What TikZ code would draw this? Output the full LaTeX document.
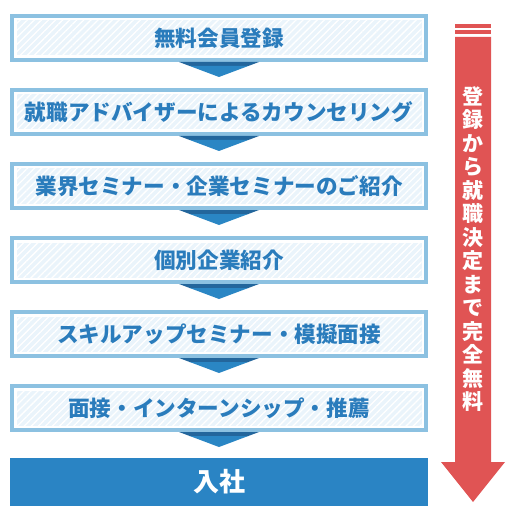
\documentclass[tikz,border=0pt]{standalone}
\usepackage{fontspec}
\newfontfamily\jp{Noto Sans CJK JP}
\usetikzlibrary{calc,patterns.meta}
\definecolor{boxline}{HTML}{8CC1E1}
\definecolor{boxfill}{HTML}{EAF4FB}
\definecolor{boxtext}{HTML}{2A7CBC}
\definecolor{tridark}{HTML}{23669C}
\definecolor{trilight}{HTML}{2A86C4}
\definecolor{endbox}{HTML}{2A84C4}
\definecolor{arrowred}{HTML}{E05454}
\tikzset{
  stepbox/.style={draw=boxline, line width=4pt, fill=white,
    minimum width=414pt, minimum height=44pt, inner sep=0pt,
    text=boxtext, font=\jp\bfseries\fontsize{21.6}{21.6}\selectfont,
    path picture={
      \fill[boxfill] ([shift={(4.5pt,-4.5pt)}]path picture bounding box.north west)
        rectangle ([shift={(-4.5pt,4.5pt)}]path picture bounding box.south east);
      \fill[pattern={Lines[angle=45,distance=5pt,line width=1.3pt]}, pattern color=white]
        ([shift={(4.5pt,-4.5pt)}]path picture bounding box.north west)
        rectangle ([shift={(-4.5pt,4.5pt)}]path picture bounding box.south east);
    }},
  endstep/.style={fill=endbox, minimum width=418pt, minimum height=48pt, inner sep=0pt,
    text=white, font=\jp\bfseries\fontsize{26}{26}\selectfont},
  vtext/.style={text=white, align=center, inner sep=0pt,
    font=\jp\bfseries\fontsize{21}{23.5}\selectfont}
}
\newcommand{\stepdown}[1]{%
  \fill[tridark] ($(#1.south)+(-40,0)$) -- ($(#1.south)+(40,0)$) --
    ($(#1.south)+(29.3,-4)$) -- ($(#1.south)+(-29.3,-4)$) -- cycle;
  \fill[trilight] ($(#1.south)+(-29.3,-4)$) -- ($(#1.south)+(29.3,-4)$) --
    ($(#1.south)+(0,-15)$) -- cycle;}
\begin{document}
\begin{tikzpicture}[x=1pt,y=1pt]
\useasboundingbox (0,0) rectangle (520,-521);
\node[stepbox] (b1) at (219,-38) {無料会員登録};
\node[stepbox] (b2) at (219,-112) {就職アドバイザーによるカウンセリング};
\node[stepbox] (b3) at (219,-186) {業界セミナー・企業セミナーのご紹介};
\node[stepbox] (b4) at (219,-260) {個別企業紹介};
\node[stepbox] (b5) at (219,-334) {スキルアップセミナー・模擬面接};
\node[stepbox] (b6) at (219,-408) {面接・インターンシップ・推薦};
\node[endstep] (b7) at (219,-482) {入社};
\stepdown{b1}\stepdown{b2}\stepdown{b3}\stepdown{b4}\stepdown{b5}\stepdown{b6}
% red arrow
\fill[arrowred] (455,-24) rectangle (491,-28);
\fill[arrowred] (455,-30.5) rectangle (491,-34.5);
\fill[arrowred] (455,-37) -- (491,-37) -- (491,-462) -- (505,-462) -- (473,-502)
  -- (441,-462) -- (455,-462) -- cycle;
\node[vtext] (free) at (473,-249) {登\\録\\か\\ら\\就\\職\\決\\定\\ま\\で\\完\\全\\無\\料};
\end{tikzpicture}
\end{document}
